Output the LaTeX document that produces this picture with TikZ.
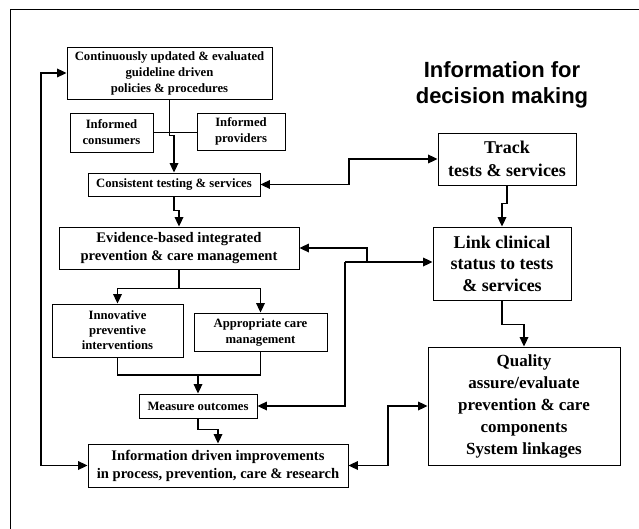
\documentclass[tikz,border=0pt]{standalone}
\usepackage{fontspec}
\setmainfont{Liberation Serif}
\newfontfamily\titlefont{Liberation Sans}
\usetikzlibrary{arrows.meta}

\tikzset{
  pix/.style={x=1pt,y=-1pt},
  box/.style={draw,line width=0.8pt,align=center,inner sep=0pt,font=\bfseries},
  sfont/.style={font=\fontsize{12.7}{16}\selectfont\bfseries},
  mfont/.style={font=\fontsize{14.6}{18}\selectfont\bfseries},
  lfont/.style={font=\fontsize{17.5}{22}\selectfont\bfseries},
  link/.style={line width=1.7pt},
  flow/.style={link,-{Triangle[length=9.5pt,width=8.5pt]}},
  both/.style={link,{Triangle[length=9.5pt,width=8.5pt]}-{Triangle[length=9.5pt,width=8.5pt]}},
}

\begin{document}
\begin{tikzpicture}[pix]
    \useasboundingbox (0,0) rectangle (639,529);
    \draw[line width=1pt] (10,529) -- (10,10) -- (639,10);

    % left column
    \node[box,sfont,minimum width=205pt,minimum height=52pt] (policy) at (169.5,73)
        {Continuously updated \& evaluated\\guideline driven\\policies \& procedures};
    \node[box,sfont,minimum width=83pt,minimum height=39pt] (cons) at (111.5,132.5) {Informed\\consumers};
    \node[box,sfont,minimum width=88pt,minimum height=37pt] (prov) at (241,131.5) {Informed\\providers};
    \node[box,sfont,minimum width=172pt,minimum height=23pt] (testing) at (174,184.5) {Consistent testing \& services};
    \node[box,mfont,minimum width=240pt,minimum height=42pt] (evid) at (179,248)
        {Evidence-based integrated\\prevention \& care management};
    \node[box,sfont,font=\fontsize{12.7}{15}\selectfont\bfseries,minimum width=131pt,minimum height=53pt] (innov) at (117.5,330.5)
        {Innovative\\preventive\\interventions};
    \node[box,sfont,minimum width=133pt,minimum height=38pt] (appr) at (260.5,332) {Appropriate care\\management};
    \node[box,sfont,minimum width=118pt,minimum height=24pt] (measure) at (198,406) {Measure outcomes};
    \node[box,mfont,minimum width=260pt,minimum height=43pt] (improve) at (218,465.5)
        {Information driven improvements\\in process, prevention, care \& research};

    % right column
    \node[font=\fontsize{22}{26}\selectfont\titlefont\bfseries,align=center] (title) at (502,85)
        {Information for\\decision making};
    \node[box,lfont,font=\fontsize{18}{23}\selectfont\bfseries,minimum width=138pt,minimum height=52pt] (track) at (507,159)
        {Track\\tests \& services};
    \node[box,lfont,font=\fontsize{18}{21.5}\selectfont\bfseries,minimum width=138pt,minimum height=73pt] (clin) at (502,263.5)
        {Link clinical\\status to tests\\\& services};
    \node[box,lfont,font=\fontsize{17}{22}\selectfont\bfseries,minimum width=192pt,minimum height=118pt] (quality) at (524,406)
        {Quality\\assure/evaluate\\prevention \& care\\components\\System linkages};

    \coordinate (back) at (41,300);
    \coordinate (bend) at (349,172);
    \coordinate (join) at (198,375);
    \coordinate (tee) at (345,262);
    \coordinate (tee2) at (367,262);
    \coordinate (qbend) at (388,430);

    % connectors
    \draw[link] (cons.east) -- (prov.west |- cons.east);
    \draw[flow] (policy.south) -- ++(0,36) -| (testing.north);
    \draw[flow] (testing.south) -- ++(0,14) -| (evid.north);
    \draw[flow] (evid.south) -- ++(0,19) -| (innov.north);
    \draw[flow] (evid.south) -- ++(0,19) -| (appr.north);
    \draw[link] (innov.south) |- (join);
    \draw[link] (appr.south) |- (join);
    \draw[flow] (join) -- (measure.north);
    \draw[flow] (measure.south) -- ++(0,11) -| (improve.north);
    \draw[both] (policy.west) -| (back) |- (improve.west);

    \draw[both] (testing.east) -| (bend) |- (track.west);
    \draw[flow] (track.south) -- ++(0,18) -| (clin.north);
    \draw[flow] (tee) -- (clin.west |- tee);
    \draw[flow] (tee2) |- (evid.east);
    \draw[flow] (tee) |- (measure.east);
    \draw[flow] (clin.south) -- ++(0,24) -| (quality.north);
    \draw[both] (improve.east) -| (qbend) |- (quality.west);
\end{tikzpicture}
\end{document}
